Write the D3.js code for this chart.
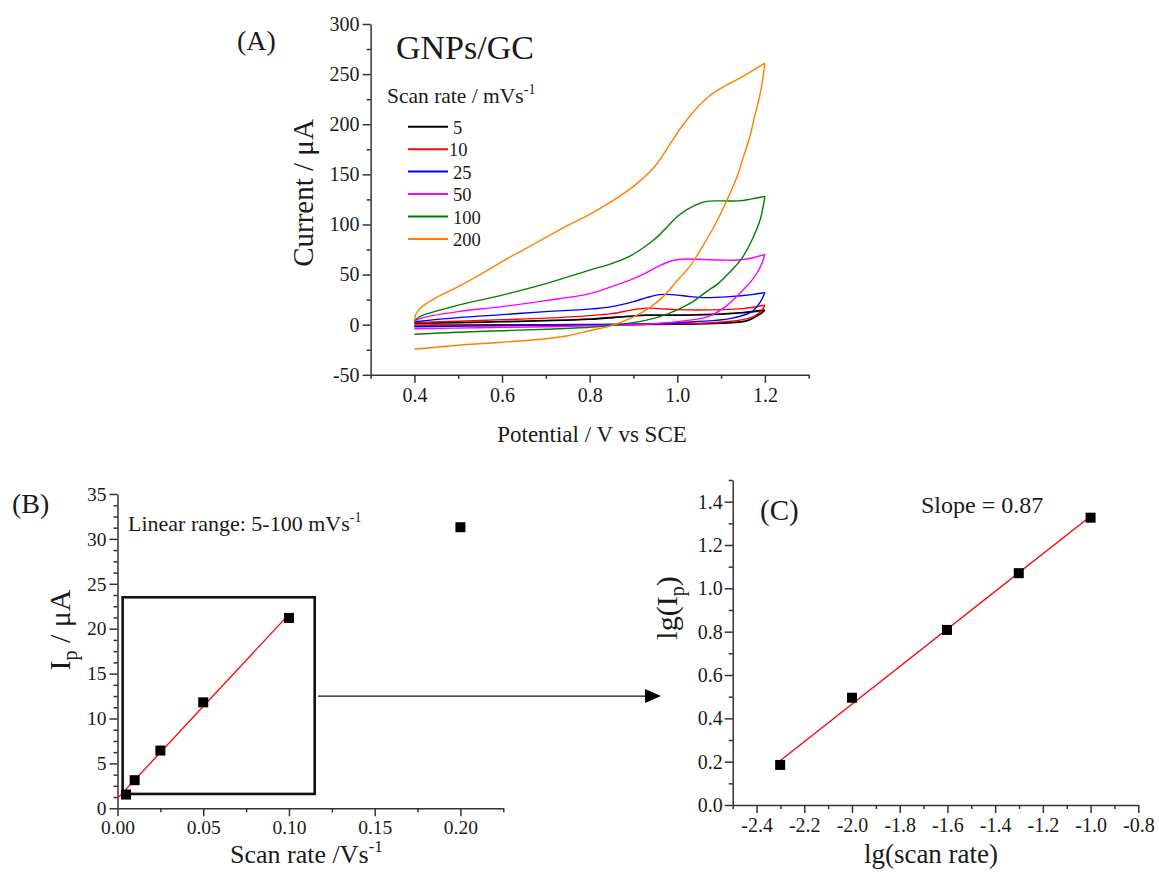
<!DOCTYPE html>
<html><head><meta charset="utf-8">
<script src="https://cdn.jsdelivr.net/npm/d3@7"></script>
<style>
body{margin:0;background:#fff}
text{font-family:"Liberation Serif","Times New Roman",serif;fill:#1a1a1a}
</style>
</head><body>
<svg id="c" width="1159" height="872"></svg>
<script>
// ---------- Panel A: cyclic voltammograms (potential V, current µA) ----------
const scanRates = ["5","10","25","50","100","200"];
const seriesColors = ["#000000","#ff0000","#0000ff","#ff00ff","#008000","#ff8000"];

const cv5Fwd  = [[0.40,1.5],[0.50,2],[0.60,3],[0.70,4],[0.80,5.5],[0.88,8],[0.93,9.5],[0.97,9.5],[1.02,9.5],[1.10,10.5],[1.15,12],[1.20,14.5]];
const cv5Rev  = [[1.20,14.5],[1.19,11],[1.16,4],[1.10,1.5],[1.00,0.5],[0.80,0],[0.60,-0.3],[0.40,-0.8]];
const cv10Fwd = [[0.40,2],[0.50,3.5],[0.60,5],[0.70,6.5],[0.80,9],[0.85,11],[0.90,15],[0.93,16.5],[0.96,16],[1.00,15],[1.10,15],[1.15,16],[1.20,19.5]];
const cv10Rev = [[1.20,19.5],[1.19,13],[1.16,6],[1.08,2],[1.00,1],[0.85,0],[0.60,-0.5],[0.40,-1]];
const cv25Fwd = [[0.40,3],[0.50,7],[0.60,10],[0.70,13],[0.80,15.5],[0.85,18],[0.90,23],[0.93,27],[0.96,30],[0.99,30],[1.03,28],[1.06,27],[1.12,28],[1.17,30],[1.20,32]];
const cv25Rev = [[1.20,32],[1.19,23],[1.17,13],[1.12,6],[1.04,3],[0.95,1],[0.80,0],[0.60,-1],[0.40,-2]];
const cv50Fwd = [[0.40,4],[0.42,7],[0.50,13],[0.60,18],[0.70,24],[0.80,31],[0.85,38],[0.90,46],[0.93,52],[0.96,59],[0.99,64],[1.02,65.5],[1.06,65],[1.10,64.5],[1.14,64.5],[1.17,66.5],[1.20,70]];
const cv50Rev = [[1.20,70],[1.19,58],[1.175,47],[1.15,34.5],[1.11,18],[1.07,8],[1.00,3],[0.93,0.5],[0.85,-0.5],[0.70,-2],[0.55,-3],[0.40,-4]];
const cv100Fwd = [[0.40,3],[0.405,6],[0.42,9.5],[0.50,19.5],[0.60,29.5],[0.70,41],[0.80,54.5],[0.85,61],[0.89,68],[0.92,76],[0.953,87],[0.98,99],[1.006,110],[1.04,119],[1.067,123],[1.10,123.5],[1.14,123.5],[1.17,125.5],[1.20,128]];
const cv100Rev = [[1.20,128],[1.19,106],[1.17,84],[1.15,68],[1.13,57],[1.11,48],[1.09,40],[1.067,33],[1.03,21.5],[0.98,11],[0.93,4.5],[0.854,-0.5],[0.80,-2.5],[0.70,-4.5],[0.60,-6],[0.50,-7.5],[0.40,-9.5]];
const cv200Fwd = [[0.40,3],[0.403,10],[0.41,15],[0.42,19],[0.45,27],[0.50,38],[0.55,50],[0.60,63],[0.65,75],[0.70,87],[0.75,99],[0.80,110],[0.85,123],[0.90,138],[0.945,156],[0.976,175],[1.006,195],[1.04,214],[1.07,227],[1.10,236],[1.143,246],[1.20,261]];
const cv200Rev = [[1.20,261],[1.19,232],[1.175,205],[1.166,188],[1.15,166],[1.136,147],[1.11,121],[1.09,103],[1.067,85],[1.03,59],[1.00,44],[0.968,28],[0.94,18],[0.915,11],[0.88,4],[0.854,-0.5],[0.80,-6],[0.75,-11],[0.70,-14],[0.60,-17.5],[0.50,-20.5],[0.40,-24.5]];
const cvFwd = [cv5Fwd, cv10Fwd, cv25Fwd, cv50Fwd, cv100Fwd, cv200Fwd];
const cvRev = [cv5Rev, cv10Rev, cv25Rev, cv50Rev, cv100Rev, cv200Rev];

const aXTicks = [0.4,0.6,0.8,1.0,1.2];
const aXMinor = [0.3,0.5,0.7,0.9,1.1,1.3];
const aYTicks = [-50,0,50,100,150,200,250,300];
const aYMinor = [-25,25,75,125,175,225,275];

// ---------- Panel B: peak current vs scan rate ----------
const bScanRate = [0.005,0.01,0.025,0.05,0.1,0.2];
const bIp = [1.53,3.13,6.43,11.8,21.2,31.3];
const bFitX = [0,0.1];
const bFitY = [1.1,21.6];
const bBoxX = [0.003,0.115];
const bBoxY = [1.6,23.5];
const bXTicks = [0,0.05,0.10,0.15,0.20];
const bXMinor = [0.025,0.075,0.125,0.175,0.225];
const bYTicks = [0,5,10,15,20,25,30,35];
const bYMinor = [1.25,2.5,3.75,6.25,7.5,8.75,11.25,12.5,13.75,16.25,17.5,18.75,21.25,22.5,23.75,26.25,27.5,28.75,31.25,32.5,33.75];

// ---------- Panel C: log-log ----------
const cLgRate = [-2.301,-2.0,-1.602,-1.301,-1.0];
const cLgIp = [0.185,0.495,0.808,1.07,1.326];
const cFitX = [-2.3,-1.0];
const cFitY = [0.205,1.333];
const cXTicks = [-2.4,-2.2,-2.0,-1.8,-1.6,-1.4,-1.2,-1.0,-0.8];
const cXMinor = [-2.5,-2.3,-2.1,-1.9,-1.7,-1.5,-1.3,-1.1,-0.9];
const cYTicks = [0,0.2,0.4,0.6,0.8,1.0,1.2,1.4];
const cYMinor = [0.1,0.3,0.5,0.7,0.9,1.1,1.3,1.5];

// ---------- drawing ----------
const svg = d3.select("#c");
svg.append("rect").attr("width",1159).attr("height",872).attr("fill","#fff");
const FONT = '"Liberation Serif","Times New Roman",serif';
const AX = "#333";

function styleAxis(g, fs){
  g.attr("font-family", FONT).attr("font-size", fs);
  g.selectAll("path,line").attr("stroke", AX).attr("stroke-width", 1.5);
  g.selectAll("text").attr("fill", "#1a1a1a").style("font-family", FONT);
}
function drawAxes(x, y, xt, xm, yt, ym, fmtX, fmtY, padX, padY, fs){
  const y0 = y.range()[0], x0 = x.range()[0];
  svg.append("g").attr("transform",`translate(0,${y0})`)
    .call(d3.axisBottom(x).tickValues(xt).tickSize(8).tickSizeOuter(0).tickPadding(padX).tickFormat(fmtX))
    .call(g => styleAxis(g, fs));
  svg.append("g").attr("transform",`translate(0,${y0})`)
    .call(d3.axisBottom(x).tickValues(xm).tickSize(4).tickFormat(""))
    .call(g => { g.select(".domain").remove(); styleAxis(g, fs); });
  svg.append("g").attr("transform",`translate(${x0},0)`)
    .call(d3.axisLeft(y).tickValues(yt).tickSize(8).tickSizeOuter(0).tickPadding(padY).tickFormat(fmtY))
    .call(g => styleAxis(g, fs));
  svg.append("g").attr("transform",`translate(${x0},0)`)
    .call(d3.axisLeft(y).tickValues(ym).tickSize(4).tickFormat(""))
    .call(g => { g.select(".domain").remove(); styleAxis(g, fs); });
}
function txt(x, y, s, fs, anchor){
  return svg.append("text").attr("x",x).attr("y",y).attr("font-size",fs)
    .style("font-family", FONT).attr("text-anchor",anchor||"start").text(s);
}

// ===== Panel A =====
const xA = d3.scaleLinear([0.3,1.3],[370.6,808.7]);
const yA = d3.scaleLinear([-50,300],[374.8,24]);
drawAxes(xA, yA, aXTicks, aXMinor, aYTicks, aYMinor, d => d.toFixed(1), d => String(d), 5, 3, 20);

const lineA = d3.line().x(d => xA(d[0])).y(d => yA(d[1])).curve(d3.curveCatmullRom.alpha(0.5));
scanRates.forEach((r,i) => {
  [cvFwd[i], cvRev[i]].forEach(arr => {
    svg.append("path").attr("d", lineA(arr)).attr("fill","none")
      .attr("stroke", seriesColors[i]).attr("stroke-width", i===0 ? 1.8 : 1.4)
      .attr("stroke-linejoin","round");
  });
});

txt(237, 50, "(A)", 28);
txt(396, 59, "GNPs/GC", 34);
const sr = txt(387, 103, "Scan rate / mVs", 21.5);
sr.append("tspan").attr("font-size",14).attr("dy",-9).text("-1");

// legend
const legY0 = 126.7, legDy = 22.45;
scanRates.forEach((r,i) => {
  const ly = legY0 + i*legDy;
  svg.append("line").attr("x1",408).attr("x2",448).attr("y1",ly).attr("y2",ly)
    .attr("stroke",seriesColors[i]).attr("stroke-width",2);
  txt(r === "10" ? 449 : 453, ly + 7, r, 18.5);
});

svg.append("text").attr("transform","translate(313,193) rotate(-90)").style("font-family", FONT)
  .attr("text-anchor","middle").attr("font-size",29).text("Current / μA");
txt(592, 442, "Potential / V vs SCE", 23, "middle");

// ===== Panel B =====
const xB = d3.scaleLinear([0,0.225],[117.5,503.3]);
const yB = d3.scaleLinear([0,35],[808.3,494]);
drawAxes(xB, yB, bXTicks, bXMinor, bYTicks, bYMinor, d => d.toFixed(2), d => String(d), 4, 3, 19.5);

svg.append("rect").attr("x",xB(bBoxX[0])).attr("y",yB(bBoxY[1]))
  .attr("width",xB(bBoxX[1])-xB(bBoxX[0])).attr("height",yB(bBoxY[0])-yB(bBoxY[1]))
  .attr("fill","none").attr("stroke","#111").attr("stroke-width",2.6);
svg.append("line").attr("x1",xB(bFitX[0])).attr("y1",yB(bFitY[0]))
  .attr("x2",xB(bFitX[1])).attr("y2",yB(bFitY[1])).attr("stroke","#ff0000").attr("stroke-width",1.3);
svg.selectAll("rect.bpt").data(bScanRate).enter().append("rect").attr("class","bpt")
  .attr("x",(d)=>xB(d)-5).attr("y",(d,i)=>yB(bIp[i])-5).attr("width",10).attr("height",10).attr("fill","#000");

txt(12, 513, "(B)", 28);
const lr = txt(128, 531, "Linear range: 5-100 mVs", 22);
lr.append("tspan").attr("font-size",14).attr("dy",-9).text("-1");
const byl = svg.append("text").attr("transform","translate(70,630) rotate(-90)").style("font-family", FONT)
  .attr("text-anchor","middle").attr("font-size",30);
byl.append("tspan").text("I");
byl.append("tspan").attr("font-size",20).attr("dy",7).text("p");
byl.append("tspan").attr("dy",-7).text(" / μA");
const bxl = txt(230, 863, "Scan rate /Vs", 26);
bxl.append("tspan").attr("font-size",17).attr("dy",-11).text("-1");

// arrow from B box to C
const arrY = yB(12.5);
svg.append("line").attr("x1",xB(0.117)).attr("x2",646).attr("y1",arrY).attr("y2",arrY)
  .attr("stroke","#111").attr("stroke-width",1.3);
svg.append("path").attr("d",`M645,${arrY-7} L661,${arrY} L645,${arrY+7} Z`).attr("fill","#000");

// ===== Panel C =====
const xC = d3.scaleLinear([-2.5,-0.8],[732.7,1138.3]);
const yC = d3.scaleLinear([0,1.5],[805,480]);
drawAxes(xC, yC, cXTicks, cXMinor, cYTicks, cYMinor, d => d.toFixed(1), d => d.toFixed(1), 4.5, 2, 20);

svg.append("line").attr("x1",xC(cFitX[0])).attr("y1",yC(cFitY[0]))
  .attr("x2",xC(cFitX[1])).attr("y2",yC(cFitY[1])).attr("stroke","#ff0000").attr("stroke-width",1.3);
svg.selectAll("rect.cpt").data(cLgRate).enter().append("rect").attr("class","cpt")
  .attr("x",d=>xC(d)-5).attr("y",(d,i)=>yC(cLgIp[i])-5).attr("width",10).attr("height",10).attr("fill","#000");

txt(760, 520, "(C)", 29);
txt(921, 513, "Slope = 0.87", 24);
const cyl = svg.append("text").attr("transform","translate(677,608) rotate(-90)").style("font-family", FONT)
  .attr("text-anchor","middle").attr("font-size",30);
cyl.append("tspan").text("lg(I");
cyl.append("tspan").attr("font-size",20).attr("dy",7).text("p");
cyl.append("tspan").attr("dy",-7).text(")");
txt(931, 863, "lg(scan rate)", 27, "middle");
</script>
</body></html>
